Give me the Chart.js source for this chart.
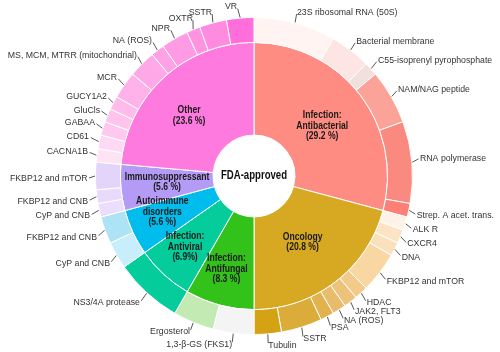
<!DOCTYPE html>
<html><head><meta charset="utf-8">
<script src="https://cdn.jsdelivr.net/npm/chart.js@4.4.1/dist/chart.umd.min.js"></script>
<style>html,body{margin:0;padding:0;background:#fff;}canvas{display:block;}</style>
</head><body>
<canvas id="c" width="500" height="352"></canvas>
<script>
// ---- data ----
const categories = ['Infection: Antibacterial','Oncology','Infection: Antifungal','Infection: Antiviral','Autoimmune disorders','Immunosuppressant','Other'];
const categoryCounts = [21, 15, 6, 5, 4, 4, 17];
const categoryLabels = [
  ['Infection:','Antibacterial','(29.2 %)'],
  ['Oncology','(20.8 %)'],
  ['Infection:','Antifungal','(8.3 %)'],
  ['Infection:','Antiviral','(6.9%)'],
  ['Autoimmune','disorders','(5.6 %)'],
  ['Immunosuppressant','(5.6 %)'],
  ['Other','(23.6 %)']
];
const targets = [
  '23S ribosomal RNA (50S)','Bacterial membrane','C55-isoprenyl pyrophosphate','NAM/NAG peptide','RNA polymerase','Strep. A acet. trans.',
  'ALK R','CXCR4','DNA','FKBP12 and mTOR','HDAC','JAK2, FLT3','NA (ROS)','PSA','SSTR','Tubulin',
  '1,3-\u03B2-GS (FKS1)','Ergosterol',
  'NS3/4A protease',
  'CyP and CNB','FKBP12 and CNB',
  'CyP and CNB','FKBP12 and CNB','FKBP12 and mTOR',
  'CACNA1B','CD61','GABAA','GluCls','GUCY1A2','MCR','MS, MCM, MTRR (mitochondrial)','NA (ROS)','NPR','OXTR','SSTR','VR'
];
const targetCounts = [
  6, 3, 1, 4, 6, 1,
  1, 1, 1, 3, 1, 1, 1, 1, 3, 2,
  3, 3,
  5,
  2, 2,
  1, 1, 2,
  1, 1, 1, 1, 1, 2, 2, 1, 2, 1, 2, 2
];
const centerTitle = 'FDA-approved';

// ---- styles ----
const categoryColors = ['#FF8C82','#D7A922','#33C21A','#05CC9B','#00BDEE','#B49BF5','#FF7ADF'];
const targetColors = [
  '#FFF4F2','#FCE5E2','#F2E0DD','#FBA399','#FA8A80','#FF7F76',
  '#FEF3E6','#FCE3C3','#FBE0BC','#F9D7A3','#F2CB8B','#EDC37B','#E9BC6B','#E2B24F','#DCAC3A','#D4A212',
  '#F4F4F4','#C4EAB4',
  '#05CC9B',
  '#C9EEFB','#AEE3F6',
  '#EBDDFC','#E8DAFB','#E3D4FA',
  '#FFE3F5','#FFD9F3','#FFC9EF','#FFC3ED','#FFBBEB','#FFB2E9','#FFA8E7','#FFA1E5','#FF9BE4','#FF93E2','#FF8BE0','#FF6EDB'
];
// label anchor offsets from the arc's outer mid point
const targetLabelOffsets = [
  [1.8,-10.4],[5.4,-8.7],[6.8,-8.6],[6.3,-7],[7.6,-4.1],[7.5,4.6],
  [7.1,5.5],[6.4,6.9],[6.7,7.6],[6.6,8.2],[5.3,9.5],[4.2,9.6],[4.6,10.2],[3.6,10.7],[1.5,11.1],[0.4,10.9],
  [-1.2,10.7],[-3.2,8.8],
  [-6.6,9.5],
  [-6.3,7.8],[-7.6,6.6],
  [-8.8,4.9],[-8.4,4.2],[-7.5,2.5],
  [-8.4,-3.5],[-9.8,-4.9],[-7.4,-5.5],[-7.1,-5.2],[-6,-5.9],[-6.8,-7.5],[-4.6,-8.6],[-5.2,-9.2],[-4.5,-10],[-0.2,-10.8],[-0.8,-10.4],[-3.1,-11.1]
];
const categoryLabelOffsets = [[-1,3],[-4.5,-3],[-5,8.5],[-10,6.5],[-12.7,-1],[0,-1.5],[-6,4]];

const labelPlugin = {
  id: 'sunLabels',
  afterDraw(chart) {
    const ctx = chart.ctx;
    // outer labels
    const om = chart.getDatasetMeta(0);
    om.data.forEach((arc, i) => {
      const p = arc.getProps(['x','y','startAngle','endAngle','outerRadius'], true);
      const mid = (p.startAngle + p.endAngle) / 2;
      const p0x = p.x + Math.cos(mid) * (p.outerRadius + 0.5);
      const p0y = p.y + Math.sin(mid) * (p.outerRadius + 0.5);
      const [dx, dy] = targetLabelOffsets[i];
      const ax = p0x + dx, ay = p0y + dy;
      const right = Math.cos(mid) > 0;
      ctx.save();
      ctx.strokeStyle = '#444';
      ctx.lineWidth = 0.9;
      ctx.beginPath();
      ctx.moveTo(p0x, p0y);
      ctx.lineTo(p0x + dx * 0.8, p0y + dy * 0.8);
      ctx.stroke();
      ctx.translate(ax, ay);
      ctx.scale(0.92, 1);
      ctx.fillStyle = '#333';
      ctx.font = '9.5px "Liberation Sans", Arial, sans-serif';
      ctx.textAlign = right ? 'left' : 'right';
      ctx.textBaseline = 'middle';
      ctx.fillText(targets[i], 0, 0);
      ctx.restore();
    });
    // inner labels
    const im = chart.getDatasetMeta(1);
    im.data.forEach((arc, i) => {
      const p = arc.getProps(['x','y','startAngle','endAngle','innerRadius','outerRadius'], true);
      const mid = (p.startAngle + p.endAngle) / 2;
      const r = (p.innerRadius + p.outerRadius) / 2;
      const cx = p.x + Math.cos(mid) * r + categoryLabelOffsets[i][0];
      const cy = p.y + Math.sin(mid) * r + categoryLabelOffsets[i][1];
      const lines = categoryLabels[i];
      const lh = 10.5;
      ctx.save();
      ctx.fillStyle = '#1a1a1a';
      ctx.font = 'bold 10px "Liberation Sans", Arial, sans-serif';
      ctx.textAlign = 'center';
      ctx.textBaseline = 'middle';
      lines.forEach((ln, k) => {
        const yy = cy + (k - (lines.length - 1) / 2) * lh;
        ctx.save();
        ctx.translate(cx, yy);
        ctx.scale(0.86, 1);
        ctx.fillText(ln, 0, 0);
        ctx.restore();
      });
      ctx.restore();
    });
    // center title
    const a0 = im.data[0];
    ctx.save();
    ctx.translate(a0.x, a0.y);
    ctx.scale(0.8, 1);
    ctx.fillStyle = '#111';
    ctx.font = 'bold 12px "Liberation Sans", Arial, sans-serif';
    ctx.textAlign = 'center';
    ctx.textBaseline = 'middle';
    ctx.fillText(centerTitle, 0, 0);
    ctx.restore();
  }
};

new Chart(document.getElementById('c'), {
  type: 'doughnut',
  data: {
    labels: targets,
    datasets: [
      { label: 'Targets', data: targetCounts, backgroundColor: targetColors, borderColor: '#fff', borderWidth: 1, weight: 25 },
      { label: 'Categories', data: categoryCounts, backgroundColor: categoryColors, borderColor: '#fff', borderWidth: 1, weight: 93 }
    ]
  },
  options: {
    responsive: false,
    animation: false,
    cutout: '25.8%',
    layout: { padding: { left: 95, right: 87, top: 17, bottom: 17 } },
    events: [],
    plugins: { legend: { display: false }, tooltip: { enabled: false } }
  },
  plugins: [labelPlugin]
});
</script>
</body></html>
